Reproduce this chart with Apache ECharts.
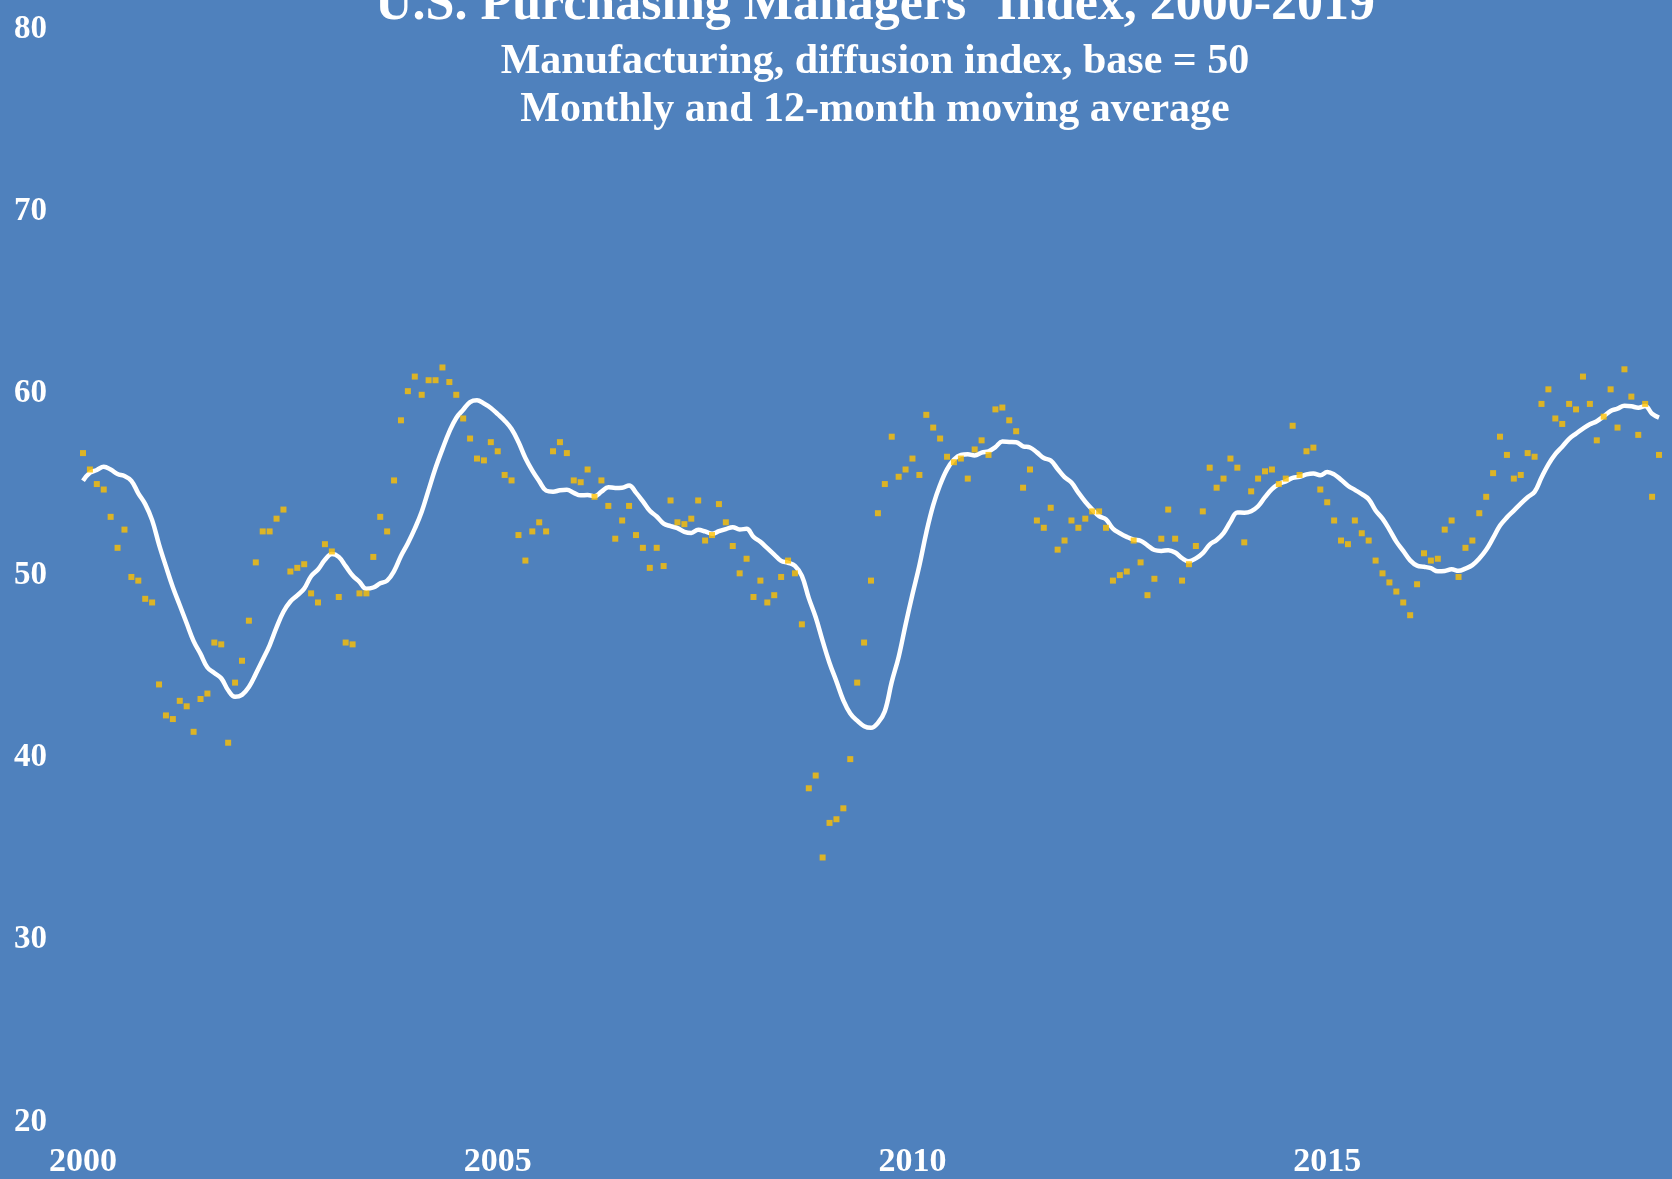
<!DOCTYPE html>
<html>
<head>
<meta charset="utf-8">
<script src="https://cdn.jsdelivr.net/npm/echarts@6/dist/echarts.min.js"></script>
<style>
  html, body { margin: 0; padding: 0; background: #4F81BD; }
  #chart { width: 1672px; height: 1179px; }
</style>
</head>
<body>
<div id="chart"></div>
<script>
// ---- Data ----
const startYear = 2000;

// Monthly ISM manufacturing PMI, Jan 2000 .. Jan 2019
const pmiMonthly = [
  56.5, 55.6, 54.8, 54.5, 53.0, 51.3, 52.3, 49.7, 49.5, 48.5, 48.3, 43.8, // 2000
  42.1, 41.9, 42.9, 42.6, 41.2, 43.0, 43.3, 46.1, 46.0, 40.6, 43.9, 45.1, // 2001
  47.3, 50.5, 52.2, 52.2, 52.9, 53.4, 50.0, 50.2, 50.4, 48.8, 48.3, 51.5, // 2002
  51.1, 48.6, 46.1, 46.0, 48.8, 48.8, 50.8, 53.0, 52.2, 55.0, 58.3, 59.9, // 2003
  60.7, 59.7, 60.5, 60.5, 61.2, 60.4, 59.7, 58.4, 57.3, 56.2, 56.1, 57.1, // 2004
  56.6, 55.3, 55.0, 52.0, 50.6, 52.2, 52.7, 52.2, 56.6, 57.1, 56.5, 55.0, // 2005
  54.9, 55.6, 54.1, 55.0, 53.6, 51.8, 52.8, 53.6, 52.0, 51.3, 50.2, 51.3, // 2006
  50.3, 53.9, 52.7, 52.6, 52.9, 53.9, 51.7, 52.0, 53.7, 52.7, 51.4, 49.9, // 2007
  50.7, 48.6, 49.5, 48.3, 48.7, 49.7, 50.6, 49.9, 47.1, 38.1, 38.8, 34.3, // 2008
  36.2, 36.4, 37.0, 39.7, 43.9, 46.1, 49.5, 53.2, 54.8, 57.4, 55.2, 55.6, // 2009
  56.2, 55.3, 58.6, 57.9, 57.3, 56.3, 56.0, 56.2, 55.1, 56.7, 57.2, 56.4, // 2010
  58.9, 59.0, 58.3, 57.7, 54.6, 55.6, 52.8, 52.4, 53.5, 51.2, 51.7, 52.8, // 2011
  52.4, 52.9, 53.3, 53.3, 52.4, 49.5, 49.8, 50.0, 51.7, 50.5, 48.7, 49.6, // 2012
  51.8, 53.4, 51.8, 49.5, 50.4, 51.4, 53.3, 55.7, 54.6, 55.1, 56.2, 55.7, // 2013
  51.6, 54.4, 55.1, 55.5, 55.6, 54.8, 55.1, 58.0, 55.3, 56.6, 56.8, 54.5, // 2014
  53.8, 52.8, 51.7, 51.5, 52.8, 52.1, 51.7, 50.6, 49.9, 49.4, 48.9, 48.3, // 2015
  47.6, 49.3, 51.0, 50.6, 50.7, 52.3, 52.8, 49.7, 51.3, 51.7, 53.2, 54.1, // 2016
  55.4, 57.4, 56.4, 55.1, 55.3, 56.5, 56.3, 59.2, 60.0, 58.4, 58.1, 59.2, // 2017
  58.9, 60.7, 59.2, 57.2, 58.5, 60.0, 57.9, 61.1, 59.6, 57.5, 59.2, 54.1, // 2018
  56.4                                                                    // 2019
];

// 12-month moving average line, Jan 2000 .. Jan 2019
const movingAverage12 = [
  54.98, 55.42, 55.57, 55.75, 55.60, 55.35, 55.24, 54.98, 54.29, 53.70, 52.82, 51.48,
  50.28, 49.14, 48.15, 47.16, 46.18, 45.48, 44.73, 44.43, 44.14, 43.48, 43.12, 43.23,
  43.66, 44.38, 45.15, 45.95, 46.93, 47.79, 48.35, 48.69, 49.06, 49.74, 50.11, 50.64,
  50.96, 50.80, 50.29, 49.78, 49.43, 49.05, 49.12, 49.35, 49.50, 50.02, 50.85, 51.55,
  52.35, 53.28, 54.48, 55.68, 56.72, 57.68, 58.43, 58.88, 59.30, 59.40, 59.22, 58.98,
  58.64, 58.28, 57.82, 57.11, 56.23, 55.54, 54.96, 54.44, 54.38, 54.46, 54.49, 54.32,
  54.18, 54.20, 54.13, 54.38, 54.63, 54.59, 54.60, 54.72, 54.33, 53.85, 53.33, 53.02,
  52.63, 52.49, 52.38, 52.18, 52.12, 52.29, 52.20, 52.07, 52.21, 52.33, 52.43, 52.31,
  52.34, 51.90, 51.63, 51.28, 50.93, 50.58, 50.48, 50.31, 49.76, 48.54, 47.49, 46.19,
  44.98, 43.97, 42.93, 42.21, 41.81, 41.51, 41.42, 41.69, 42.33, 43.94, 45.31, 47.08,
  48.75, 50.33, 52.13, 53.64, 54.76, 55.61, 56.15, 56.40, 56.43, 56.37, 56.53, 56.60,
  56.83, 57.13, 57.11, 57.09, 56.87, 56.81, 56.54, 56.23, 56.09, 55.63, 55.18, 54.88,
  54.33, 53.83, 53.41, 53.04, 52.86, 52.35, 52.10, 51.90, 51.75, 51.69, 51.44, 51.18,
  51.13, 51.17, 51.04, 50.73, 50.56, 50.72, 51.01, 51.48, 51.73, 52.11, 52.73, 53.24,
  53.23, 53.31, 53.58, 54.08, 54.52, 54.80, 54.95, 55.14, 55.20, 55.33, 55.38, 55.28,
  55.46, 55.33, 55.04, 54.71, 54.48, 54.25, 53.97, 53.35, 52.90, 52.30, 51.64, 51.13,
  50.61, 50.32, 50.26, 50.18, 50.01, 50.03, 50.12, 50.04, 50.16, 50.35, 50.71, 51.19,
  51.84, 52.52, 52.97, 53.34, 53.73, 54.08, 54.37, 55.16, 55.88, 56.44, 56.85, 57.28,
  57.57, 57.84, 58.08, 58.25, 58.52, 58.81, 58.94, 59.10, 59.07, 58.99, 59.08, 58.66,
  58.45
];

const xTickYears = ['2000', '2005', '2010', '2015'];
const yAxisMin = 20, yAxisMax = 80, yAxisStep = 10;

const titleText = 'U.S. Purchasing Managers\u2019 Index, 2000-2019';
const subtitleLines = ['Manufacturing, diffusion index, base = 50', 'Monthly and 12-month moving average'];

// month categories built from start year
const monthCategories = pmiMonthly.map((_, i) =>
  (startYear + Math.floor(i / 12)) + '-' + String(i % 12 + 1).padStart(2, '0'));

// ---- Chart ----
const FONT = '"Liberation Serif", "Times New Roman", serif';
const chart = echarts.init(document.getElementById('chart'), null, { renderer: 'canvas' });

chart.setOption({
  backgroundColor: '#4F81BD',
  animation: false,
  grid: { left: 83, right: 13, top: 25, bottom: 59, containLabel: false },
  xAxis: {
    type: 'category',
    data: monthCategories,
    boundaryGap: false,
    axisLine: { show: false },
    axisTick: { show: false },
    splitLine: { show: false },
    axisLabel: {
      interval: (idx, val) => val.endsWith('-01') && xTickYears.includes(val.slice(0, 4)),
      formatter: (val) => val.slice(0, 4),
      color: '#FFFFFF',
      fontFamily: FONT,
      fontWeight: 'bold',
      fontSize: 34,
      margin: 27
    }
  },
  yAxis: {
    type: 'value',
    min: yAxisMin,
    max: yAxisMax,
    interval: yAxisStep,
    axisLine: { show: false },
    axisTick: { show: false },
    splitLine: { show: false },
    axisLabel: {
      color: '#FFFFFF',
      fontFamily: FONT,
      fontWeight: 'bold',
      fontSize: 33,
      align: 'left',
      verticalAlign: 'top',
      lineHeight: 8,
      margin: 69
    }
  },
  graphic: [
    { type: 'text', style: { text: titleText, x: 875, y: 6, textAlign: 'center', textVerticalAlign: 'middle',
        fill: '#FFFFFF', font: 'bold 52px ' + FONT } },
    { type: 'text', style: { text: subtitleLines[0], x: 875, y: 62, textAlign: 'center', textVerticalAlign: 'middle',
        fill: '#FFFFFF', font: 'bold 42px ' + FONT } },
    { type: 'text', style: { text: subtitleLines[1], x: 875, y: 110, textAlign: 'center', textVerticalAlign: 'middle',
        fill: '#FFFFFF', font: 'bold 42px ' + FONT } }
  ],
  series: [
    {
      name: '12-month moving average',
      type: 'line',
      data: movingAverage12,
      smooth: 0.4,
      showSymbol: false,
      symbol: 'none',
      lineStyle: { color: '#FFFFFF', width: 4.5 },
      z: 2
    },
    {
      name: 'Monthly',
      type: 'scatter',
      data: pmiMonthly,
      symbol: 'rect',
      symbolSize: 6,
      itemStyle: { color: '#FFC000' },
      z: 3
    }
  ]
});
</script>
</body>
</html>
